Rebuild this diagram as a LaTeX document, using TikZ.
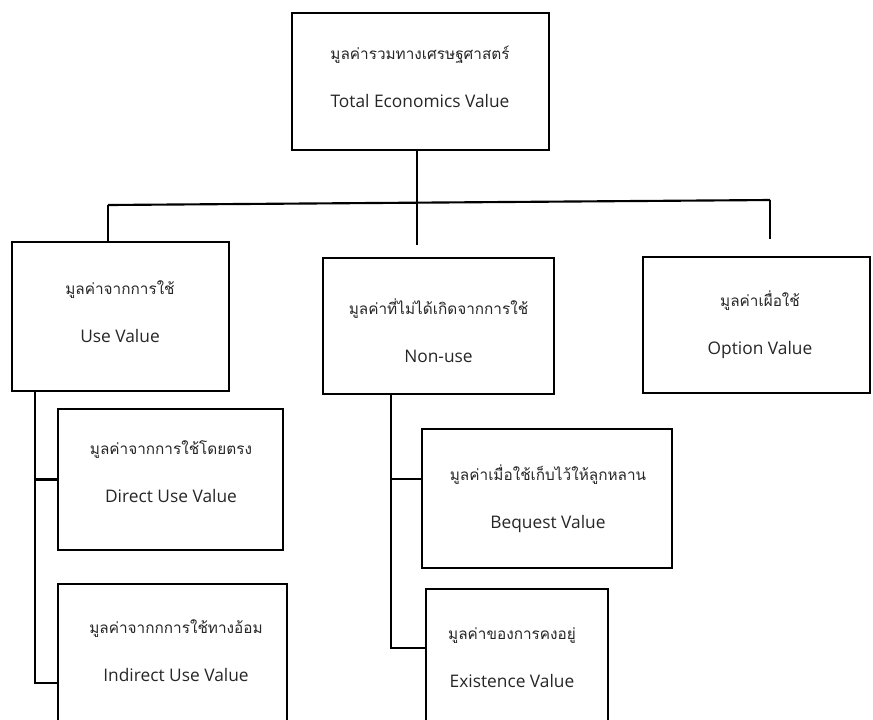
\documentclass[tikz,border=0pt]{standalone}
\usepackage{fontspec}
\setmainfont{Open Sans}
\newfontfamily\thai[Script=Thai]{Loma}
\newcommand\thaitxt[1]{{\thai\fontsize{11.5}{36}\selectfont #1}}

\begin{document}
\begin{tikzpicture}[x=0.75pt, y=-0.75pt,
    valbox/.style 2 args={draw, line width=1.6pt, minimum width=#1*0.75pt, minimum height=#2*0.75pt},
    valtext/.style={align=center, font=\fontsize{13}{36}\selectfont, text=black!85},
    link/.style={line width=1.6pt}]
        \useasboundingbox (0,0) rectangle (873,719);

        % boxes
        \node [valbox={257}{137}] (tev) at (420.5, 81.5) {};
        \node [valbox={217}{149}] (use) at (120.5, 316.5) {};
        \node [valbox={231}{136}] (non) at (438.5, 326) {};
        \node [valbox={227}{136}] (opt) at (756.5, 325) {};
        \node [valbox={225}{141}] (dir) at (170.5, 479.5) {};
        \node [valbox={229}{198}] (ind) at (172.5, 683) {};
        \node [valbox={250}{139}] (beq) at (547, 498.5) {};
        \node [valbox={182}{191}] (exi) at (517, 684.5) {};

        % texts
        \node [valtext] (tev-t) at (420, 76.5) {\thaitxt{มูลค่ารวมทางเศรษฐศาสตร์}\\Total Economics Value};
        \node [valtext] (use-t) at (120, 311.5) {\thaitxt{มูลค่าจากการใช้}\\Use Value};
        \node [valtext] (non-t) at (438.5, 330.5) {\thaitxt{มูลค่าที่ไม่ได้เกิดจากการใช้}\\Non-use};
        \node [valtext] (opt-t) at (760, 325) {\thaitxt{มูลค่าเผื่อใช้}\\Option Value};
        \node [valtext] (dir-t) at (171, 472) {\thaitxt{มูลค่าจากการใช้โดยตรง}\\Direct Use Value};
        \node [valtext] (ind-t) at (176, 651) {\thaitxt{มูลค่าจากกการใช้ทางอ้อม}\\Indirect Use Value};
        \node [valtext] (beq-t) at (548, 499) {\thaitxt{มูลค่าเมื่อใช้เก็บไว้ให้ลูกหลาน}\\Bequest Value};
        \node [valtext] (exi-t) at (512, 657.5) {\thaitxt{มูลค่าของการคงอยู่}\\Existence Value};

        % bus
        \coordinate (busL) at (108, 205);
        \coordinate (busR) at (770, 200);
        \coordinate (midstub) at (417, 245);
        \coordinate (optstub) at (770, 239);
        \draw [link] (busL) -- (busR);
        \draw [link] (busL) -- (busL |- use.north);
        \draw [link] (tev.south -| midstub) -- (midstub);
        \draw [link] (busR) -- (optstub);

        % use value branch
        \coordinate (usplit) at (35, 683);
        \draw [link] (use.south -| usplit) -- (usplit) -- (usplit -| ind.west);
        \draw [link] (usplit |- dir.west) -- (dir.west);

        % non-use branch
        \coordinate (nsplit) at (391, 648);
        \coordinate (nbranch) at (391, 479);
        \draw [link] (non.south -| nsplit) -- (nsplit) -- (nsplit -| exi.west);
        \draw [link] (nbranch) -- (nbranch -| beq.west);
\end{tikzpicture}
\end{document}
